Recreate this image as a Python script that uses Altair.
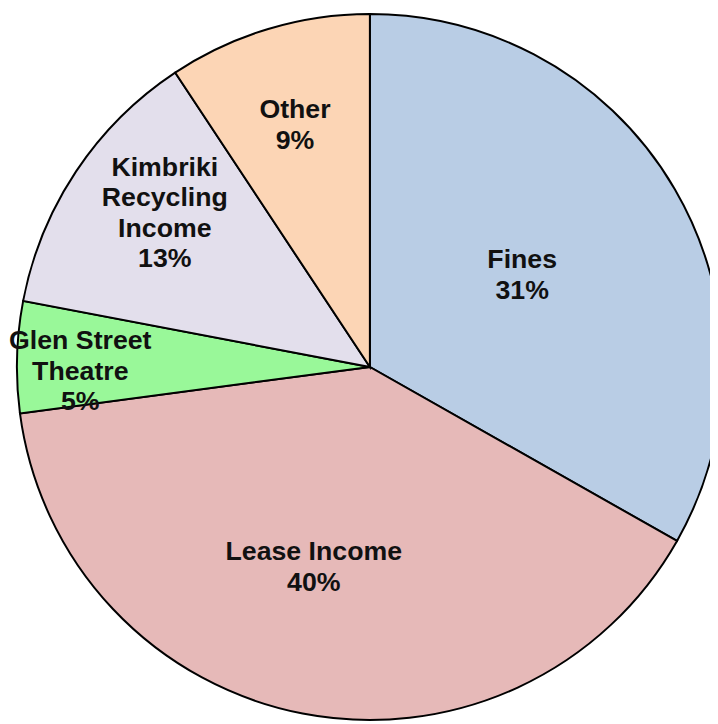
import altair as alt
import pandas as pd

# ---- data ----
categories = ["Fines", "Lease Income", "Glen Street Theatre",
              "Kimbriki Recycling Income", "Other"]
# angular share of each slice as drawn (percent of the circle)
shares = [33.2, 39.7, 5.1, 12.7, 9.3]
# label text as printed in the chart
name_lines = ["Fines", "Lease Income", "Glen Street\nTheatre",
              "Kimbriki\nRecycling\nIncome", "Other"]
pct_labels = ["31%", "40%", "5%", "13%", "9%"]

# ---- styles / layout ----
colors = ["#b9cde5", "#e6b9b8", "#99f899", "#e3dfec", "#fcd5b5"]
# per-label placement: (radius, dx, dy)
label_layout = [(176, 2, -19.5), (206, -17.5, -15), (290, -3, -18),
                (260, 9, -57.5), (256, -2, -14.5)]

W, H = 710, 716
CX, CY, R = 366, 359, 357

df = pd.DataFrame({
    "category": categories,
    "share": shares,
    "label": [f"{n}\n{p}" for n, p in zip(name_lines, pct_labels)],
    "order": list(range(len(categories))),
})

base = alt.Chart(df)
theta = alt.Theta("share:Q", stack=True)

arcs = base.mark_arc(outerRadius=R, stroke="black", strokeWidth=2).encode(
    theta=theta,
    color=alt.Color("category:N",
                    scale=alt.Scale(domain=categories, range=colors),
                    legend=None),
    order=alt.Order("order:Q"),
    x=alt.value(CX),
    y=alt.value(CY),
)

layers = [arcs]
for cat, (r, dx, dy) in zip(categories, label_layout):
    layers.append(
        base.mark_text(
            radius=r, dx=dx, dy=dy,
            font="Liberation Sans", fontWeight="bold", fontSize=27,
            lineHeight=31, lineBreak="\n", color="#111111",
            align="center", baseline="middle",
        ).encode(
            theta=theta,
            detail="category:N",
            order=alt.Order("order:Q"),
            text=alt.condition(alt.datum.category == cat,
                               alt.Text("label:N"), alt.value("")),
            x=alt.value(CX),
            y=alt.value(CY),
        )
    )

chart = alt.layer(*layers).properties(
    width=W, height=H,
    autosize=alt.AutoSizeParams(type="none"),
    padding=0,
    background="white",
).configure_view(strokeWidth=0)

chart.save("out.html", embed_options={"renderer": "svg", "actions": False})
